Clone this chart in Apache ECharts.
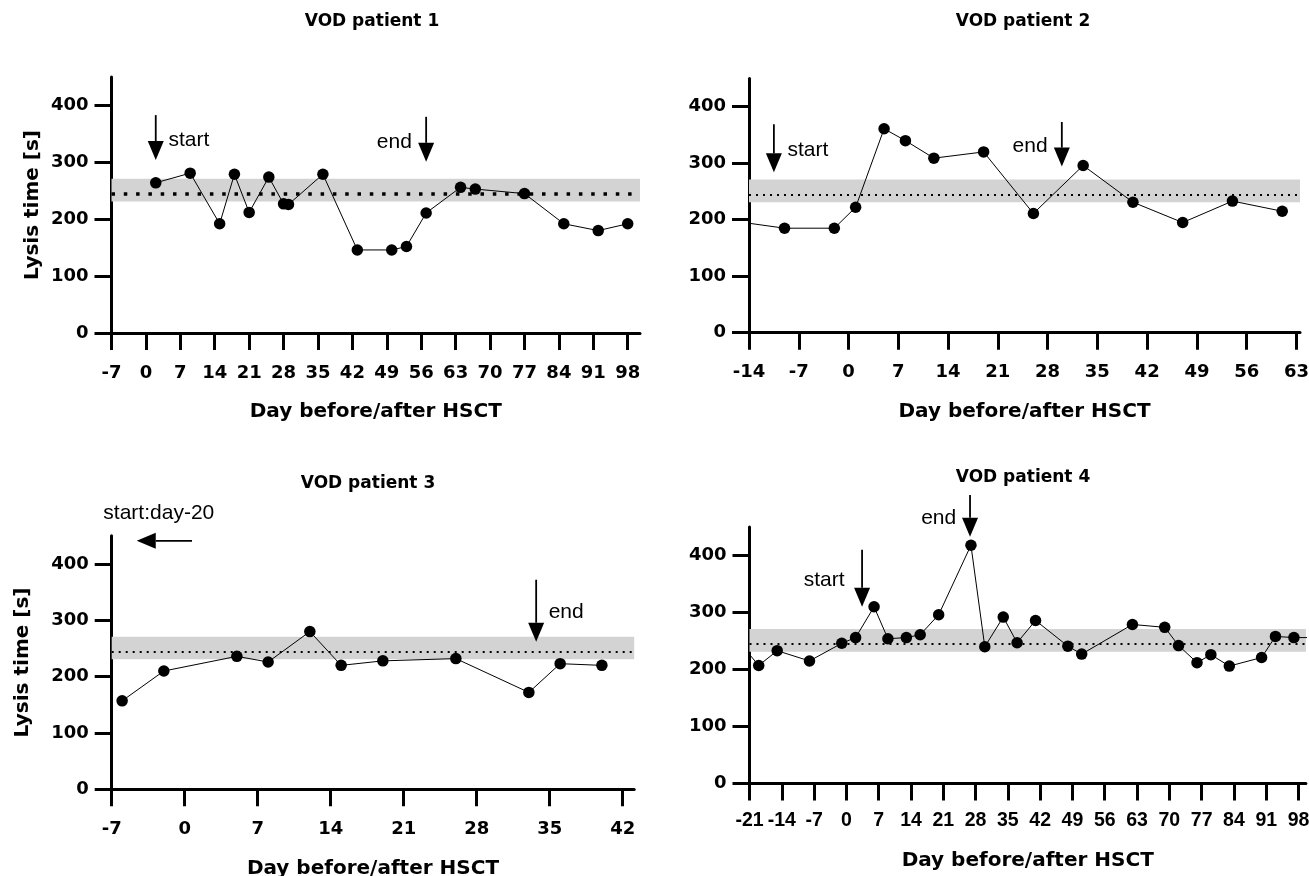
<!DOCTYPE html>
<html><head><meta charset="utf-8">
<script src="https://cdn.jsdelivr.net/npm/echarts@6/dist/echarts.min.js"></script>
<style>html,body{margin:0;padding:0;background:#fff}#c{width:1309px;height:876px}</style>
</head><body><div id="c"></div>
<script>
// ---------- data ----------
const titles = ['VOD patient 1', 'VOD patient 2', 'VOD patient 3', 'VOD patient 4'];
const xName = 'Day before/after HSCT';
const yName = 'Lysis time [s]';

const days1 = [2, 9, 15, 18, 21, 25, 28, 29, 36, 43, 50, 53, 57, 64, 67, 77, 85, 92, 98];
const vals1 = [264, 281, 192, 279, 212, 274, 227, 226, 279, 146, 146, 152, 211, 256, 253, 245, 192, 180, 192];

const days2 = [-17, -9, -2, 1, 5, 8, 12, 19, 26, 33, 40, 47, 54, 61];
const vals2 = [199, 185, 185, 222, 361, 340, 309, 320, 211, 296, 231, 195, 233, 215];

const days3 = [-6, -2, 5, 8, 12, 15, 19, 26, 33, 36, 40];
const vals3 = [157, 210, 236, 226, 280, 220, 228, 232, 172, 223, 220];

const days4 = [-22, -19, -15, -8, -1, 2, 6, 9, 13, 16, 20, 27, 30, 34, 37, 41, 48, 51, 62, 69, 72, 76, 79, 83, 90, 93, 97, 101];
const vals4 = [236, 207, 233, 215, 246, 256, 310, 254, 256, 261, 296, 418, 240, 292, 247, 286, 241, 227, 279, 274, 242, 212, 226, 206, 221, 258, 256, 256];

// reference range (band) and mean (dotted line)
const refLow = 231, refHigh = 271, refMean = 245;

const yTicks = [0, 100, 200, 300, 400];
const xTicks1 = [-7, 0, 7, 14, 21, 28, 35, 42, 49, 56, 63, 70, 77, 84, 91, 98];
const xTicks2 = [-14, -7, 0, 7, 14, 21, 28, 35, 42, 49, 56, 63];
const xTicks3 = [-7, 0, 7, 14, 21, 28, 35, 42];
const xTicks4 = [-21, -14, -7, 0, 7, 14, 21, 28, 35, 42, 49, 56, 63, 70, 77, 84, 91, 98];

// annotation arrows: [xFrom, yFrom, xTo, yTo] in data units
const arrows1 = [[2, 383, 2, 304], [57, 380, 57, 301]];
const arrows2 = [[-10.5, 369, -10.5, 284], [30, 373, 30, 294]];
const arrows3 = [[0.7, 441, -4.6, 441], [33.7, 372, 33.7, 262]];
const arrows4 = [[3.4, 410, 3.4, 310], [26.8, 506, 26.8, 433]];

// annotation texts: positions in data units
const notes1Pos = [[4.6, 339], [54.1, 336]];
const notes1Text = ['start', 'end'];
const notes2Pos = [[-8.6, 323], [28.0, 330]];
const notes2Text = ['start', 'end'];
const notes3Pos = [[-7.8, 490], [34.9, 314]];
const notes3Text = ['start:day-20', 'end'];
const notes4Pos = [[-0.4, 357], [23.8, 465]];
const notes4Text = ['start', 'end'];

// ---------- layout ----------
const BOLD = '"DejaVu Sans", sans-serif';
const NARROW = '"Liberation Sans", Arial, sans-serif';
const REG = '"Liberation Sans", Arial, sans-serif';

const panels = [
  {grid: {left: 111.5, top: 77, width: 528.5, height: 256}, xmin: -7, xmax: 100.5, xTicks: xTicks1,
   days: days1, vals: vals1, bold: true, arrows: arrows1, notesPos: notes1Pos, notesText: notes1Text,
   align: ['left', 'right'], yName: true, yGap: 69, xGap: 69, title: [372, 22], xFont: [BOLD, 18], xMargin: 31},
  {grid: {left: 749, top: 78.5, width: 551, height: 254.2}, xmin: -14, xmax: 63.5, xTicks: xTicks2,
   days: days2, vals: vals2, bold: false, arrows: arrows2, notesPos: notes2Pos, notesText: notes2Text,
   align: ['left', 'right'], yName: false, yGap: 69, xGap: 69, title: [1023, 22], xFont: [BOLD, 18], xMargin: 31},
  {grid: {left: 111.7, top: 535.8, width: 522.5, height: 253.5}, xmin: -7, xmax: 43.1, xTicks: xTicks3,
   days: days3, vals: vals3, bold: false, arrows: arrows3, notesPos: notes3Pos, notesText: notes3Text,
   align: ['left', 'left'], yName: true, yGap: 79, xGap: 69, title: [368, 484], xFont: [BOLD, 18], xMargin: 31},
  {grid: {left: 749.5, top: 527, width: 556.4, height: 256.5}, xmin: -21, xmax: 99.6, xTicks: xTicks4,
   days: days4, vals: vals4, bold: false, arrows: arrows4, notesPos: notes4Pos, notesText: notes4Text,
   align: ['right', 'right'], yName: false, yGap: 69, xGap: 67, title: [1023, 478], xFont: [NARROW, 19.5], xMargin: 27}
];

function arrowRender(params, api) {
  const p0 = api.coord([api.value(0), api.value(1)]);
  const p1 = api.coord([api.value(2), api.value(3)]);
  const dx = p1[0] - p0[0], dy = p1[1] - p0[1];
  const L = Math.hypot(dx, dy) || 1;
  const ux = dx / L, uy = dy / L;
  const hl = 19, hw = 8;
  const bx = p1[0] - ux * hl, by = p1[1] - uy * hl;
  return {
    type: 'group',
    children: [
      {type: 'line', shape: {x1: p0[0], y1: p0[1], x2: bx, y2: by}, style: {stroke: '#000', lineWidth: 1.8}},
      {type: 'polygon', shape: {points: [[p1[0], p1[1]], [bx - uy * hw, by + ux * hw], [bx + uy * hw, by - ux * hw]]},
       style: {fill: '#000'}}
    ]
  };
}

const grid = [], xAxis = [], yAxis = [], series = [], graphic = [];
panels.forEach((p, i) => {
  grid.push(Object.assign({containLabel: false, outerBoundsMode: 'none'}, p.grid));
  xAxis.push({
    type: 'value', gridIndex: i, min: p.xmin, max: p.xmax,
    axisLine: {show: true, onZero: false, lineStyle: {color: '#000', width: 3}},
    axisTick: {show: true, length: 17, customValues: p.xTicks, lineStyle: {color: '#000', width: 3}},
    axisLabel: {customValues: p.xTicks, margin: p.xMargin, color: '#000', fontFamily: p.xFont[0], fontWeight: 'bold',
                fontSize: p.xFont[1], showMinLabel: true, showMaxLabel: true, hideOverlap: false},
    splitLine: {show: false},
    name: xName, nameLocation: 'middle', nameGap: p.xGap,
    nameTextStyle: {color: '#000', fontFamily: BOLD, fontWeight: 'bold', fontSize: 20}
  });
  yAxis.push({
    type: 'value', gridIndex: i, min: 0, max: 450,
    axisLine: {show: true, onZero: false, lineStyle: {color: '#000', width: 3}},
    axisTick: {show: true, length: 17, customValues: yTicks, lineStyle: {color: '#000', width: 3}},
    axisLabel: {customValues: yTicks, margin: 23, color: '#000', fontFamily: BOLD, fontWeight: 'bold', fontSize: 18,
                showMinLabel: true, showMaxLabel: true},
    splitLine: {show: false},
    name: p.yName ? yName : '', nameLocation: 'middle', nameGap: p.yGap,
    nameTextStyle: {color: '#000', fontFamily: BOLD, fontWeight: 'bold', fontSize: 20}
  });
  series.push({
    type: 'line', xAxisIndex: i, yAxisIndex: i, clip: true,
    data: p.days.map((d, k) => [d, p.vals[k]]),
    symbol: 'circle', symbolSize: 11.5, showAllSymbol: true,
    itemStyle: {color: '#000'}, lineStyle: {color: '#000', width: 1}, z: 3,
    emphasis: {disabled: true}, silent: true,
    markArea: {silent: true, itemStyle: {color: '#d3d3d3'}, data: [[{yAxis: refLow}, {yAxis: refHigh}]]},
    markLine: {silent: true, symbol: 'none', label: {show: false},
      lineStyle: p.bold ? {color: '#000', type: [3.5, 8.8], width: 3.5, cap: 'butt'}
                        : {color: '#000', type: [2, 5], width: 2, cap: 'butt'},
      emphasis: {disabled: true},
      data: [{yAxis: refMean}]}
  });
  series.push({
    type: 'custom', xAxisIndex: i, yAxisIndex: i, silent: true, clip: false, z: 10,
    data: p.arrows, renderItem: arrowRender
  });
  series.push({
    type: 'custom', xAxisIndex: i, yAxisIndex: i, silent: true, clip: false, z: 10,
    data: p.notesPos,
    renderItem: (params, api) => {
      const pt = api.coord([api.value(0), api.value(1)]);
      return {type: 'text', x: pt[0], y: pt[1],
        style: {text: p.notesText[params.dataIndex], fill: '#000', font: '21px ' + REG,
                align: p.align[params.dataIndex], verticalAlign: 'middle'}};
    }
  });
  graphic.push({type: 'text', x: p.title[0], y: p.title[1],
    style: {text: titles[i], fill: '#000', font: 'bold 17px ' + BOLD, align: 'center', verticalAlign: 'middle'}});
});

const chart = echarts.init(document.getElementById('c'), null, {renderer: 'canvas'});
chart.setOption({animation: false, backgroundColor: '#fff', grid, xAxis, yAxis, series, graphic});
</script>
</body></html>
